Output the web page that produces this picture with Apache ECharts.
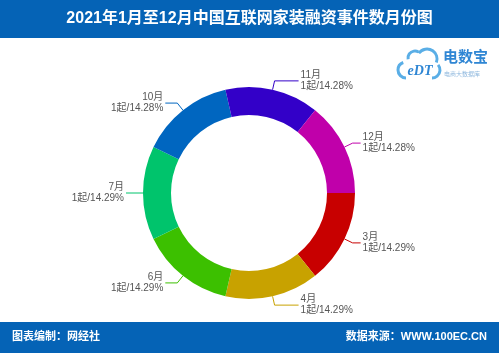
<!DOCTYPE html>
<html>
<head>
<meta charset="utf-8">
<style>
  html, body { margin: 0; padding: 0; background: #fff; }
  #box { width: 499px; height: 353px; }
</style>
<script src="https://cdn.jsdelivr.net/npm/echarts@6/dist/echarts.min.js"></script>
</head>
<body>
<div id="box"></div>
<script>
// 月份、事件数、占比
var months = ['3月', '4月', '6月', '7月', '10月', '11月', '12月'];
var counts = [1, 1, 1, 1, 1, 1, 1];
var pcts = ['14.29', '14.29', '14.29', '14.29', '14.28', '14.28', '14.28'];
var colors = ['#c80000', '#c8a200', '#3cc000', '#00c46c', '#0066c0', '#3300c8', '#c000aa'];
// 引导线第二段长度（上下两个标签更长）
var lineLen2 = [8, 24, 12, 8, 12, 24, 8];

var font = "'Liberation Sans','Noto Sans CJK SC',sans-serif";
var D = Math.PI / 180;

function cloudArc(cx, cy, r, a0, a1) {
    return {
        type: 'arc',
        shape: { cx: cx, cy: cy, r: r, startAngle: a0 * D, endAngle: a1 * D, clockwise: true },
        style: { stroke: '#5aaee6', lineWidth: 3, fill: null }
    };
}

var myChart = echarts.init(document.getElementById('box'));
var option = {
    backgroundColor: '#fff',
    animation: false,
    graphic: [
        // 顶部标题栏
        { type: 'rect', x: 0, y: 0, shape: { width: 499, height: 38 }, style: { fill: '#0563b6' } },
        { type: 'text', x: 249.5, y: 19, style: { text: '2021年1月至12月中国互联网家装融资事件数月份图', fill: '#fff', font: 'bold 16px ' + font, align: 'center', verticalAlign: 'middle' } },
        // 底部栏
        { type: 'rect', x: 0, y: 322, shape: { width: 499, height: 31 }, style: { fill: '#0563b6' } },
        { type: 'text', x: 12, y: 337, style: { text: '图表编制：网经社', fill: '#fff', font: 'bold 11px ' + font, verticalAlign: 'middle' } },
        { type: 'text', x: 487, y: 337, style: { text: '数据来源：WWW.100EC.CN', fill: '#fff', font: 'bold 11px ' + font, align: 'right', verticalAlign: 'middle' } },
        // 电数宝 logo
        cloudArc(406, 70, 8, 90, 250),
        cloudArc(415, 58, 7, 170, 300),
        cloudArc(427, 59, 10, 215, 380),
        cloudArc(432, 70, 8, -40, 90),
        { type: 'text', x: 420, y: 71, style: { text: 'eDT', fill: '#2f86d4', font: 'italic bold 14px serif', align: 'center', verticalAlign: 'middle' } },
        { type: 'text', x: 443, y: 58, style: { text: '电数宝', fill: '#2f86d4', font: 'bold 15px ' + font, verticalAlign: 'middle' } },
        { type: 'text', x: 444, y: 74, style: { text: '电商大数据库', fill: '#8fb8de', font: '6px ' + font, verticalAlign: 'middle' } }
    ],
    series: [{
        type: 'pie',
        center: [249, 193],
        radius: [78, 106],
        startAngle: 0,
        clockwise: true,
        color: colors,
        label: {
            show: true,
            color: '#555',
            fontSize: 10,
            lineHeight: 11,
            fontFamily: font,
            distanceToLabelLine: 2,
            formatter: function(p) {
                return p.name + '\n' + p.value + '起/' + pcts[p.dataIndex] + '%';
            }
        },
        labelLine: { length: 9, length2: 8, lineStyle: { width: 1 } },
        data: months.map(function(m, i) {
            return { name: m, value: counts[i], labelLine: { length2: lineLen2[i] } };
        })
    }]
};
myChart.setOption(option);
</script>
</body>
</html>
